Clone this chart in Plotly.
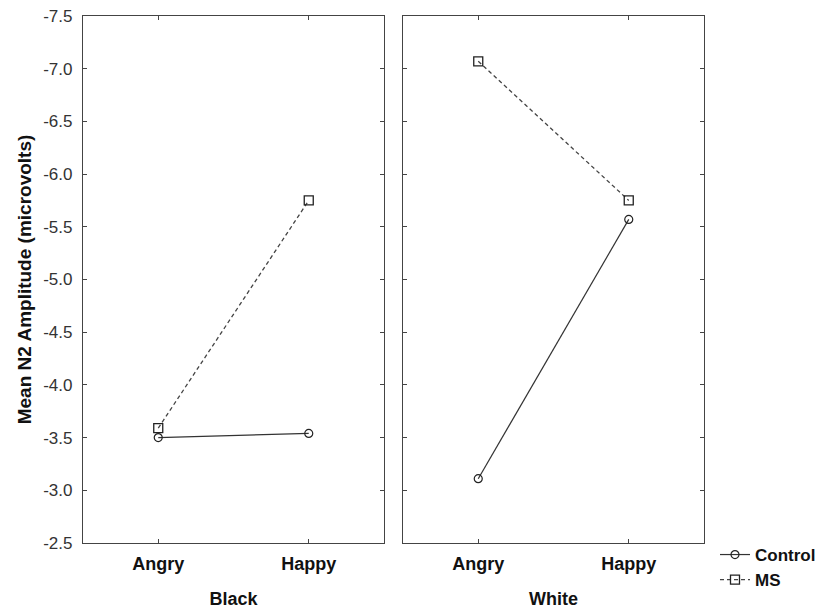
import plotly.graph_objects as go

# Mean N2 amplitude by target race, expression and condition
conditions = ["Angry", "Happy"]
black_control = [-3.50, -3.54]
black_ms = [-3.59, -5.75]
white_control = [-3.11, -5.57]
white_ms = [-7.07, -5.75]
panel_titles = ["Black", "White"]
y_ticks = [-7.5, -7.0, -6.5, -6.0, -5.5, -5.0, -4.5, -4.0, -3.5, -3.0, -2.5]
y_tick_labels = ["%.1f" % v for v in y_ticks]

FONT = "Arial, Liberation Sans, sans-serif"
INK = "#333333"
DARK = "#111111"

circle = dict(symbol="circle-open", size=8, color="#222222", line=dict(width=1.2, color="#222222"))
square = dict(symbol="square-open", size=9, color="#222222", line=dict(width=1.3, color="#222222"))

fig = go.Figure()
panels = [(black_control, black_ms, "x", "y"), (white_control, white_ms, "x2", "y2")]
for i, (ctrl, ms, xa, ya) in enumerate(panels):
    fig.add_trace(go.Scatter(
        x=conditions, y=ctrl, mode="lines+markers", name="Control",
        line=dict(color="#333333", width=1.2), marker=circle,
        showlegend=(i == 0), xaxis=xa, yaxis=ya))
    fig.add_trace(go.Scatter(
        x=conditions, y=ms, mode="lines+markers", name="MS",
        line=dict(color="#444444", width=1.3, dash="4px,3px"), marker=square,
        showlegend=(i == 0), xaxis=xa, yaxis=ya))

axis_common = dict(
    showline=True, linecolor="#444444", linewidth=1.2, mirror="ticks",
    ticks="inside", ticklen=4, tickcolor="#444444", showgrid=False, zeroline=False,
    automargin=False,
)
xaxis_common = dict(
    axis_common, type="category", range=[-0.5, 1.5],
    tickvals=conditions, ticktext=conditions, ticklabelstandoff=4,
    tickfont=dict(family=FONT, size=18, color=DARK, weight="bold"),
    title_font=dict(family=FONT, size=18, color=DARK, weight="bold"),
    title_standoff=19,
)

fig.update_layout(
    width=819, height=610,
    margin=dict(l=83, r=115, t=16, b=67, autoexpand=False),
    paper_bgcolor="white", plot_bgcolor="white",
    font=dict(family=FONT, color=INK),
    xaxis=dict(xaxis_common, domain=[0, 0.4847], anchor="y",
               title_text=panel_titles[0]),
    xaxis2=dict(xaxis_common, domain=[0.5153, 1], anchor="y2",
                title_text=panel_titles[1]),
    yaxis=dict(axis_common, range=[-2.5, -7.5], anchor="x",
               tickvals=y_ticks, ticktext=y_tick_labels, ticklabelstandoff=6,
               tickfont=dict(family=FONT, size=17, color=INK),
               title_text="Mean N2 Amplitude (microvolts)",
               title_font=dict(family=FONT, size=19, color=DARK, weight="bold"),
               title_standoff=6),
    yaxis2=dict(axis_common, range=[-2.5, -7.5], anchor="x2", matches="y",
                tickvals=y_ticks, showticklabels=False),
    legend=dict(x=1.0177, y=0.0114, xanchor="left", yanchor="top",
                font=dict(family=FONT, size=17, color=DARK, weight="bold"),
                bgcolor="rgba(0,0,0,0)", itemwidth=30, tracegroupgap=0),
)

fig.write_html("out.html")
